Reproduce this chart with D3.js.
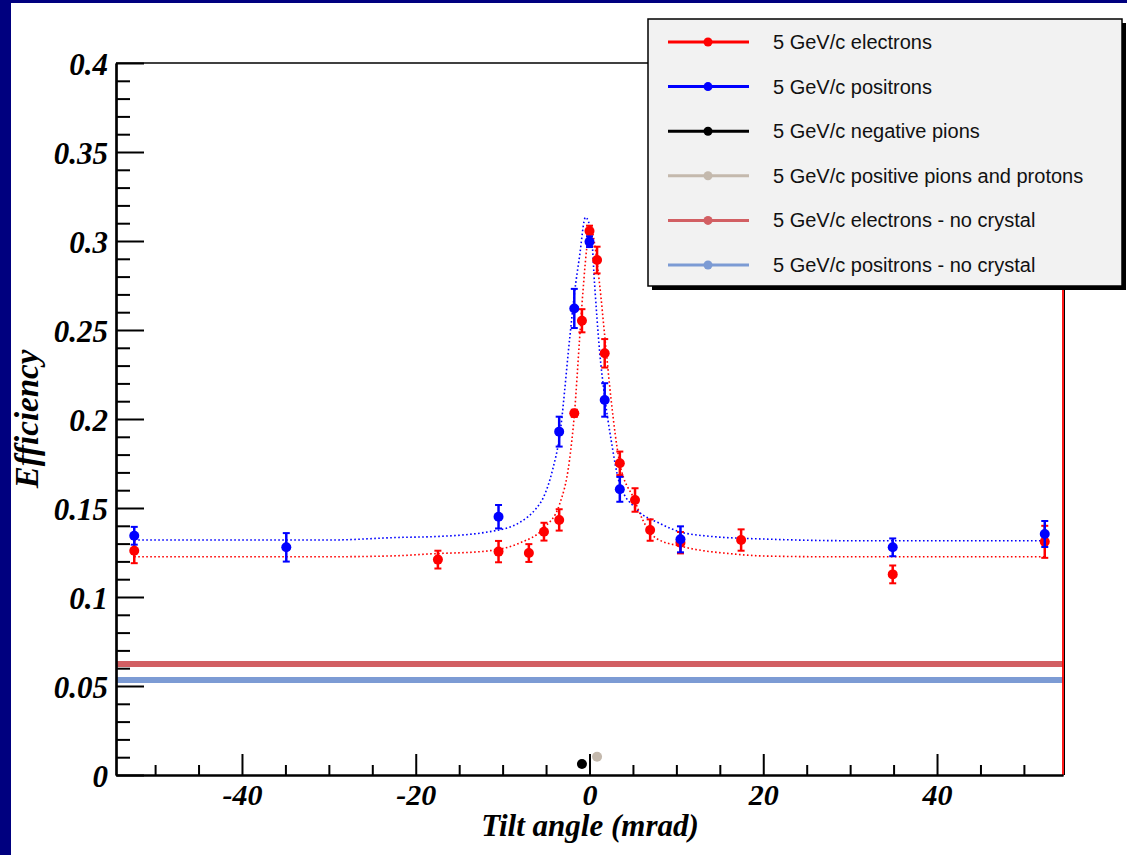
<!DOCTYPE html>
<html>
<head>
<meta charset="utf-8">
<script src="https://cdn.jsdelivr.net/npm/d3@7"></script>
<style>
  body { margin: 0; background: #000080; }
  svg { display: block; }
</style>
</head>
<body>
<div id="target"></div>
<script>
// tilt angles (mrad) and efficiencies
const tiltE = [-52.4, -17.45, -10.47, -6.98, -5.24, -3.49, -1.75, -0.87, 0, 0.87, 1.75, 3.49, 5.24, 6.98, 10.47, 17.45, 34.9, 52.4];
const effE = [0.126, 0.121, 0.1255, 0.1247, 0.1367, 0.1433, 0.2032, 0.2552, 0.3056, 0.2893, 0.2369, 0.1751, 0.1545, 0.1376, 0.1305, 0.132, 0.1127, 0.131];
const errE = [0.007, 0.005, 0.006, 0.005, 0.005, 0.006, 0.002, 0.0065, 0.003, 0.0075, 0.008, 0.0066, 0.0066, 0.006, 0.006, 0.006, 0.005, 0.009];

const tiltP = [-52.4, -34.9, -10.47, -3.49, -1.75, 0, 1.75, 3.49, 10.47, 34.9, 52.4];
const effP = [0.1344, 0.1279, 0.1451, 0.1929, 0.2621, 0.2996, 0.2107, 0.1605, 0.1324, 0.1279, 0.1354];
const errP = [0.005, 0.008, 0.0066, 0.0084, 0.011, 0.003, 0.0094, 0.007, 0.0073, 0.005, 0.0073];

const tiltPiMinus = [-0.87];
const effPiMinus = [0.0062];
const tiltPiPlus = [0.87];
const effPiPlus = [0.0103];

const effNoCrystalE = 0.0624;
const effNoCrystalP = 0.0534;

// fitted curves, points
const fitTiltE = [-52.4, -30, -22, -18, -12.3, -8.1, -5.2, -3.45, -2.3, -1.73, -1.15, -0.77, -0.2, 0.15, 0.58, 1.15, 1.8, 2.49, 3.45, 5.18, 6.13, 7.67, 10.7, 16.5, 20.3, 28, 52.4];
const fitEffE = [0.1226, 0.1226, 0.1232, 0.1243, 0.1256, 0.1302, 0.139, 0.152, 0.177, 0.2032, 0.2444, 0.2706, 0.3006, 0.308, 0.2987, 0.2762, 0.2444, 0.2107, 0.176, 0.1545, 0.1433, 0.133, 0.1283, 0.1242, 0.123, 0.1226, 0.1226];
const fitTiltP = [-52.4, -30, -21.7, -18, -11.5, -8, -6.1, -5.4, -4.22, -3.45, -2.3, -1.73, -1.15, -0.46, 0.2, 0.58, 1.15, 1.8, 2.49, 3.45, 5.37, 8.05, 10.36, 13.4, 21.1, 30.7, 52.4];
const fitEffP = [0.132, 0.132, 0.1335, 0.1339, 0.1367, 0.142, 0.15, 0.155, 0.172, 0.19, 0.2444, 0.2706, 0.2912, 0.3133, 0.3043, 0.2762, 0.2388, 0.2107, 0.1882, 0.1639, 0.1495, 0.1414, 0.1367, 0.1343, 0.1324, 0.1316, 0.1316];

const xTicks = [-40, -20, 0, 20, 40];
const xMinor = [-50, -45, -35, -30, -25, -15, -10, -5, 5, 10, 15, 25, 30, 35, 45, 50];
const yTicks = [0, 0.05, 0.1, 0.15, 0.2, 0.25, 0.3, 0.35, 0.4];
const yTickLabels = ['0', '0.05', '0.1', '0.15', '0.2', '0.25', '0.3', '0.35', '0.4'];
const yMinor = d3.range(0, 41).map(i => i / 100).filter(v => Math.round(v * 100) % 5 !== 0);

const legendLabels = [
  '5 GeV/c electrons',
  '5 GeV/c positrons',
  '5 GeV/c negative pions',
  '5 GeV/c positive pions and protons',
  '5 GeV/c electrons - no crystal',
  '5 GeV/c positrons - no crystal'
];

const red = '#ff0000';
const blue = '#0000ff';
const grey = '#c4b9ad';
const redNC = '#d25f63';
const blueNC = '#7c9bd4';
const legendColors = [red, blue, '#000000', grey, redNC, blueNC];

const width = 1127;
const height = 855;
const serif = '"Liberation Serif", "Times New Roman", serif';

const svg = d3.select('#target')
  .append('svg')
  .attr('width', width)
  .attr('height', height);

svg.append('rect')
  .attr('width', width).attr('height', height)
  .attr('fill', '#00007f');
svg.append('rect')
  .attr('x', 11).attr('y', 3)
  .attr('width', width - 11).attr('height', height - 3)
  .attr('fill', '#ffffff');

const x = d3.scaleLinear().domain([-54.5, 54.5]).range([116, 1063]);
const y = d3.scaleLinear().domain([0, 0.4]).range([775, 63]);

// no-crystal levels
[[effNoCrystalE, redNC], [effNoCrystalP, blueNC]].forEach(([v, c]) => {
  svg.append('line')
    .attr('x1', x.range()[0]).attr('x2', x.range()[1])
    .attr('y1', y(v)).attr('y2', y(v))
    .attr('stroke', c).attr('stroke-width', 6);
});

// fits
const fitLine = d3.line()
  .x(d => x(d[0]))
  .y(d => y(d[1]))
  .curve(d3.curveMonotoneX);

svg.append('path')
  .datum(d3.zip(fitTiltE, fitEffE))
  .attr('d', fitLine)
  .attr('fill', 'none')
  .attr('stroke', red)
  .attr('stroke-width', 1.6)
  .attr('stroke-dasharray', '1.6 2.4');
svg.append('path')
  .datum(d3.zip(fitTiltP, fitEffP))
  .attr('d', fitLine)
  .attr('fill', 'none')
  .attr('stroke', blue)
  .attr('stroke-width', 1.6)
  .attr('stroke-dasharray', '1.6 2.4');

function drawPoints(tilts, effs, errs, color) {
  const g = svg.append('g');
  const data = tilts.map((t, i) => ({t: t, v: effs[i], e: errs ? errs[i] : 0}));
  const bars = g.selectAll('.err').data(data.filter(d => d.e > 0)).enter().append('g');
  bars.append('line')
    .attr('x1', d => x(d.t)).attr('x2', d => x(d.t))
    .attr('y1', d => y(d.v + d.e)).attr('y2', d => y(d.v - d.e))
    .attr('stroke', color).attr('stroke-width', 2.5);
  bars.append('line')
    .attr('x1', d => x(d.t) - 3.5).attr('x2', d => x(d.t) + 3.5)
    .attr('y1', d => y(d.v + d.e)).attr('y2', d => y(d.v + d.e))
    .attr('stroke', color).attr('stroke-width', 2);
  bars.append('line')
    .attr('x1', d => x(d.t) - 3.5).attr('x2', d => x(d.t) + 3.5)
    .attr('y1', d => y(d.v - d.e)).attr('y2', d => y(d.v - d.e))
    .attr('stroke', color).attr('stroke-width', 2);
  g.selectAll('circle').data(data).enter().append('circle')
    .attr('cx', d => x(d.t)).attr('cy', d => y(d.v))
    .attr('r', 5)
    .attr('fill', color);
}

drawPoints(tiltE, effE, errE, red);
drawPoints(tiltP, effP, errP, blue);
drawPoints(tiltPiMinus, effPiMinus, null, '#000000');
drawPoints(tiltPiPlus, effPiPlus, null, grey);

// frame
svg.append('line')
  .attr('x1', 116).attr('x2', 1063).attr('y1', 63).attr('y2', 63)
  .attr('stroke', '#000').attr('stroke-width', 1.5);
svg.append('line')
  .attr('x1', 1064.5).attr('x2', 1064.5).attr('y1', 63).attr('y2', 775)
  .attr('stroke', '#000').attr('stroke-width', 1);
svg.append('line')
  .attr('x1', 1063).attr('x2', 1063).attr('y1', 63).attr('y2', 775)
  .attr('stroke', red).attr('stroke-width', 1.8);

// axes
const yAxis = svg.append('g')
  .attr('transform', 'translate(116,0)')
  .call(d3.axisLeft(y).tickValues(yTicks)
    .tickFormat((d, i) => yTickLabels[i])
    .tickSize(-28).tickSizeOuter(0).tickPadding(8));
svg.append('g')
  .attr('transform', 'translate(116,0)')
  .call(d3.axisLeft(y).tickValues(yMinor).tickFormat('').tickSize(-14).tickSizeOuter(0));

const xAxis = svg.append('g')
  .attr('transform', 'translate(0,775)')
  .call(d3.axisBottom(x).tickValues(xTicks)
    .tickFormat(d => String(d))
    .tickSize(-21).tickSizeOuter(0).tickPadding(9));
svg.append('g')
  .attr('transform', 'translate(0,775)')
  .call(d3.axisBottom(x).tickValues(xMinor).tickFormat('').tickSize(-10).tickSizeOuter(0));

svg.selectAll('.domain').attr('stroke', '#000').attr('stroke-width', 2.2);
svg.selectAll('.tick line').attr('stroke', '#000').attr('stroke-width', 2);
svg.selectAll('.tick text')
  .attr('font-family', serif)
  .attr('font-weight', 'bold')
  .attr('font-style', 'italic')
  .attr('font-size', 31)
  .attr('fill', '#000');
yAxis.selectAll('.tick text').attr('dy', '0.36em');
xAxis.selectAll('.tick text').attr('font-size', 30);

svg.append('text')
  .attr('x', 590).attr('y', 836)
  .attr('text-anchor', 'middle')
  .attr('font-family', serif).attr('font-weight', 'bold').attr('font-style', 'italic')
  .attr('font-size', 31)
  .text('Tilt angle (mrad)');
svg.append('text')
  .attr('transform', 'translate(38,419) rotate(-90)')
  .attr('text-anchor', 'middle')
  .attr('font-family', serif).attr('font-weight', 'bold').attr('font-style', 'italic')
  .attr('font-size', 33)
  .text('Efficiency');

// legend
const legend = svg.append('g');
legend.append('rect')
  .attr('x', 652).attr('y', 23).attr('width', 474).attr('height', 267)
  .attr('fill', '#000');
legend.append('rect')
  .attr('x', 648).attr('y', 19).attr('width', 474).attr('height', 267)
  .attr('fill', '#f2f2f2').attr('stroke', '#000').attr('stroke-width', 1.5);

const rowY = d3.scalePoint().domain(d3.range(legendLabels.length)).range([42, 265]);
const rows = legend.selectAll('.row').data(legendLabels).enter().append('g')
  .attr('transform', (d, i) => `translate(0,${rowY(i)})`);
rows.append('line')
  .attr('x1', 668).attr('x2', 749)
  .attr('stroke', (d, i) => legendColors[i]).attr('stroke-width', 3);
rows.append('circle')
  .attr('cx', 708).attr('r', 4.5)
  .attr('fill', (d, i) => legendColors[i]);
rows.append('text')
  .attr('x', 773).attr('y', 7)
  .attr('font-family', '"Liberation Sans", Arial, sans-serif')
  .attr('font-size', 20)
  .attr('fill', '#111')
  .text(d => d);
</script>
</body>
</html>
